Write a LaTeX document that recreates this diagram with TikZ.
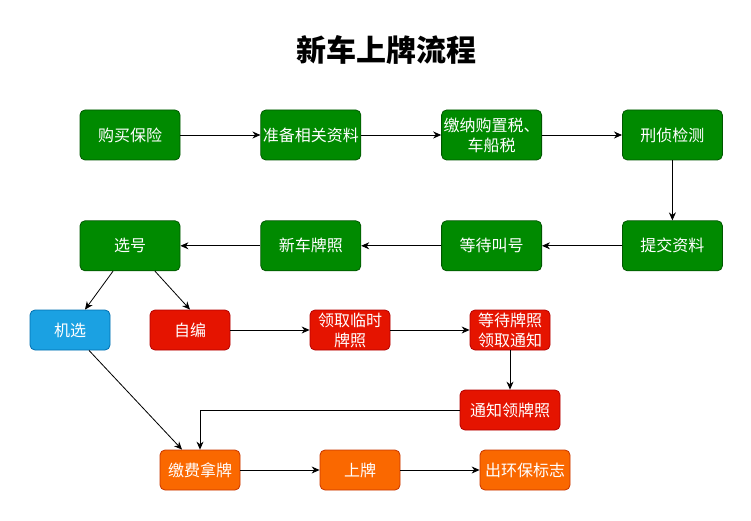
\documentclass[tikz,border=0pt]{standalone}
\usepackage{fontspec}
\setmainfont{Noto Sans CJK SC}
\usetikzlibrary{arrows.meta}
\usetikzlibrary{positioning}
\definecolor{stepgreen}{HTML}{008A00}
\definecolor{stepgreenline}{HTML}{005700}
\definecolor{stepblue}{HTML}{1BA1E2}
\definecolor{stepblueline}{HTML}{006EAF}
\definecolor{stepred}{HTML}{E51400}
\definecolor{stepredline}{HTML}{B20000}
\definecolor{steporange}{HTML}{FA6800}
\definecolor{steporangeline}{HTML}{C73500}
\tikzset {
  flow box/.style = {
    rounded corners = 5pt,
    line width = 0.8pt,
    text = white,
    align = center,
    inner sep = 0pt,
    font = \fontsize{16}{20}\selectfont
  },
  % big green steps
  green step/.style = {
    flow box,
    draw = stepgreenline,
    fill = stepgreen,
    minimum width = 100pt,
    minimum height = 50pt
  },
  % small steps
  small step/.style = {
    flow box,
    minimum width = 80pt,
    minimum height = 40pt
  },
  blue step/.style = {
    small step,
    draw = stepblueline,
    fill = stepblue
  },
  red step/.style = {
    small step,
    draw = stepredline,
    fill = stepred
  },
  orange step/.style = {
    small step,
    draw = steporangeline,
    fill = steporange
  },
  flow/.style = {
    draw = black,
    line width = 0.8pt,
    -{Stealth[length=8pt,width=7pt]}
  },
  node distance = 80pt
}

\begin{document}
\begin{tikzpicture}[x=1pt, y=-1pt]
    \useasboundingbox (0,0) rectangle (751,521);
    \node[font=\fontsize{30}{32}\selectfont\bfseries] (title) at (386,50) {新车上牌流程};

    \node[green step] (baoxian) at (130,135) {购买保险};
    \node[green step] (zhunbei) [right=of baoxian] {准备相关资料};
    \node[green step] (jiaona) [right=of zhunbei] {缴纳购置税、\\车船税};
    \node[green step] (xingzhen) [right=of jiaona] {刑侦检测};
    \node[green step] (tijiao) [below=60pt of xingzhen] {提交资料};
    \node[green step] (dengdai) [left=of tijiao] {等待叫号};
    \node[green step] (xinche) [left=of dengdai] {新车牌照};
    \node[green step] (xuanhao) [left=of xinche] {选号};

    \node[blue step] (jixuan) at (70,330) {机选};
    \node[red step] (zibian) at (190,330) {自编};
    \node[red step] (linshi) at (350,330) {领取临时\\牌照};
    \node[red step] (dengpai) at (510,330) {等待牌照\\领取通知};
    \node[red step, minimum width=100pt] (tongzhi) at (510,410) {通知领牌照};

    \node[orange step] (jiaofei) at (200,470) {缴费拿牌};
    \node[orange step] (shangpai) at (360,470) {上牌};
    \node[orange step, minimum width=90pt] (huanbao) at (525,470) {出环保标志};

    \draw[flow] (baoxian) -- (zhunbei);
    \draw[flow] (zhunbei) -- (jiaona);
    \draw[flow] (jiaona) -- (xingzhen);
    \draw[flow] (xingzhen) -- (tijiao);
    \draw[flow] (tijiao) -- (dengdai);
    \draw[flow] (dengdai) -- (xinche);
    \draw[flow] (xinche) -- (xuanhao);

    \draw[flow] ([xshift=-17pt]xuanhao.south) -- ([xshift=15pt]jixuan.north);
    \draw[flow] ([xshift=25pt]xuanhao.south) -- (zibian.north);
    \draw[flow] (zibian) -- (linshi);
    \draw[flow] (linshi) -- (dengpai);
    \draw[flow] (dengpai) -- (tongzhi);
    \draw[flow] (tongzhi.west) -| (jiaofei.north);
    \draw[flow] ([xshift=19pt]jixuan.south) -- ([xshift=-18pt]jiaofei.north);

    \draw[flow] (jiaofei) -- (shangpai);
    \draw[flow] (shangpai) -- (huanbao);
\end{tikzpicture}
\end{document}
